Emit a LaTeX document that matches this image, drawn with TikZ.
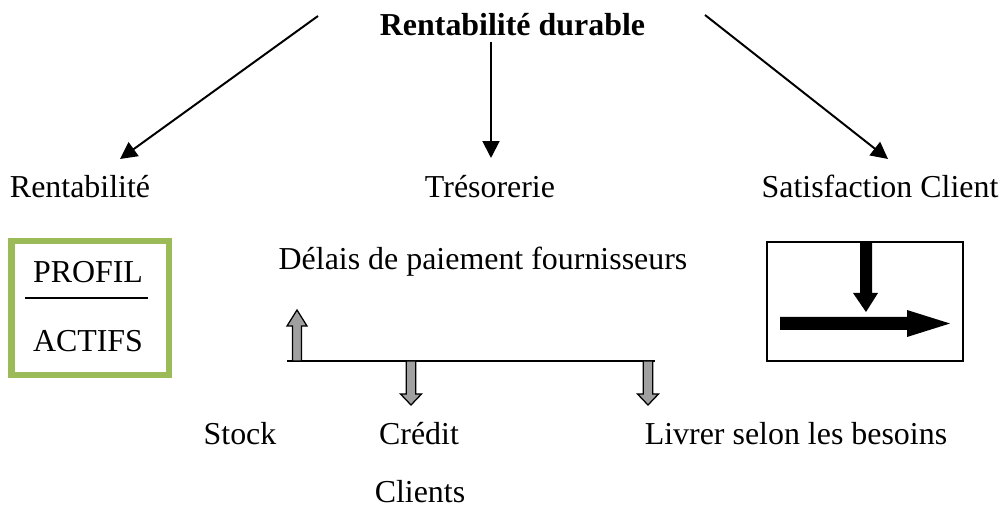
\documentclass[tikz,border=0pt]{standalone}
\usepackage{fontspec}
\setmainfont{Liberation Serif}
\usetikzlibrary{arrows.meta,positioning}
\definecolor{olivegreen}{RGB}{155,187,89}
\definecolor{arrowgray}{RGB}{160,160,160}

\begin{document}
\begin{tikzpicture}[
    x=0.025cm, y=-0.025cm,
    txt/.style={anchor=base, inner sep=0pt, font=\fontsize{22.7}{27}\selectfont},
    arrow/.style={-{Triangle[length=12pt, width=12pt]}, line width=1.4pt},
    garrow/.style={draw=black, fill=arrowgray, line width=0.9pt},
    barrow/.style={fill=black},
    thin line/.style={line width=1.1pt},
]
\useasboundingbox (0,0) rectangle (1001,511);

% Title and the three branches
\node[txt, font=\fontsize{22.7}{27}\selectfont\bfseries] (titre) at (512.5,36) {Rentabilité durable};
\node[txt] (rent) at (80,198) {Rentabilité};
\node[txt] (treso) at (490,198) {Trésorerie};
\node[txt] (satis) at (880,198) {Satisfaction Client};

\coordinate (gauche) at (318,16);
\coordinate (droite) at (705,15);
\draw[arrow] (gauche) -- (120,159);
\draw[arrow] (491,42) -- (491,158);
\draw[arrow] (droite) -- (888,159);

% Rentabilite: ratio in green box
\draw[olivegreen, line width=4.6pt] (11.5,241) rectangle (169,375);
\node[txt] (profil) at (88,283) {PROFIL};
\node[txt] (actifs) at (88,352) {ACTIFS};
\draw[thin line] (25,298) -- (148,298);

% Tresorerie: time line
\node[txt] (delais) at (483,270) {Délais de paiement fournisseurs};
\draw[thin line] (287,361) -- (655,361);
\draw[garrow] (292.5,361) -- (292.5,326) -- (287,326) -- (297,310) -- (307,326) -- (301.5,326) -- (301.5,361) -- cycle;
\foreach \x in {411,648}
    \draw[garrow] ({\x-4.75},361) -- ({\x-4.75},394) -- ({\x-10.5},394) -- (\x,405) -- ({\x+10.5},394) -- ({\x+4.75},394) -- ({\x+4.75},361) -- cycle;

\node[txt] (stock) at (240,444) {Stock};
\node[txt] (credit) at (419,444) {Crédit};
\node[txt] (clients) at (420,502) {Clients};
\node[txt] (livrer) at (796,444) {Livrer selon les besoins};

% Satisfaction client: flow box
\draw[thin line] (767,242) rectangle (963,361);
\fill[barrow] (860,242) -- (860,293) -- (853,293) -- (866,312) -- (878,293) -- (872,293) -- (872,242) -- cycle;
\fill[barrow] (780,317) -- (907,317) -- (907,310) -- (950,323.5) -- (907,337) -- (907,330) -- (780,330) -- cycle;
\end{tikzpicture}
\end{document}
